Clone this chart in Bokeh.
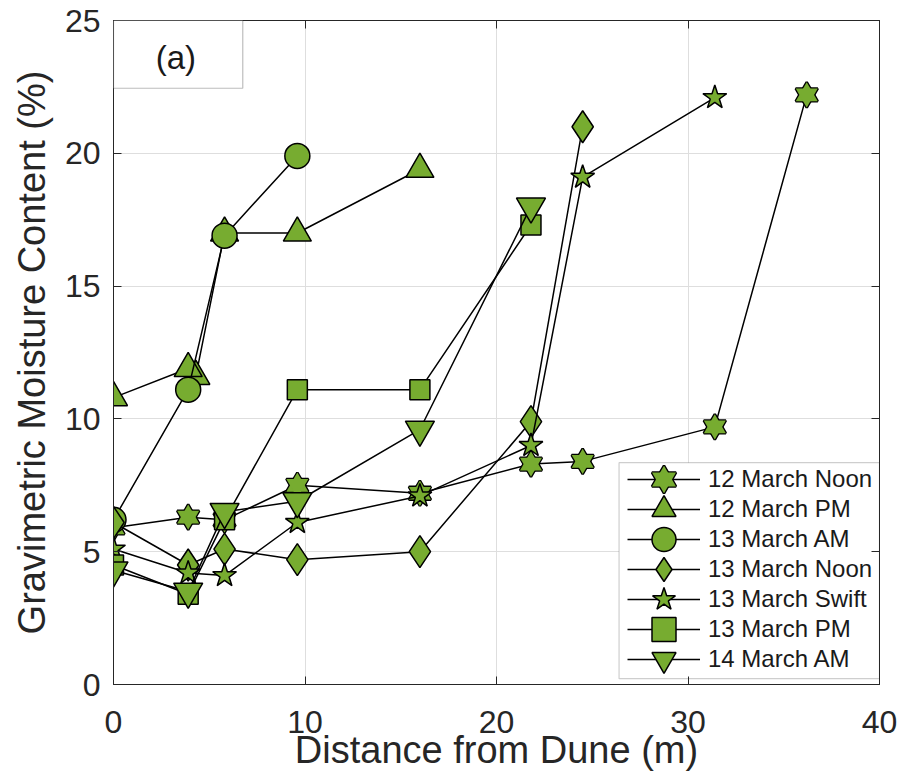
from bokeh.plotting import figure
from bokeh.models import (Legend, LegendItem, LinearAxis, BoxAnnotation, Label,
                          FixedTicker, Range1d, CustomLabelingPolicy)
from bokeh.embed import file_html
from bokeh.resources import INLINE

# ---- measurements: distance from dune (m) and gravimetric moisture (%) ----
x_12_noon = [0, 3.9, 5.8, 9.6, 16, 21.8, 24.5, 31.4, 36.2]
y_12_noon = [5.9, 6.3, 6.2, 7.5, 7.2, 8.3, 8.4, 9.7, 22.2]

x_12_pm = [0, 3.9, 4.3, 5.8, 9.6, 16]
y_12_pm = [10.8, 11.9, 11.6, 17.0, 17.0, 19.4]

x_13_am = [0, 3.9, 5.8, 9.6]
y_13_am = [6.2, 11.1, 16.9, 19.9]

x_13_noon = [0, 3.9, 5.8, 9.6, 16, 21.8, 24.5]
y_13_noon = [6.1, 4.5, 5.1, 4.7, 5.0, 9.9, 21.0]

x_13_swift = [0, 3.9, 5.8, 9.6, 16, 21.8, 24.5, 31.4]
y_13_swift = [5.1, 4.2, 4.1, 6.1, 7.1, 9.0, 19.1, 22.1]

x_13_pm = [0, 3.9, 5.8, 9.6, 16, 21.8]
y_13_pm = [4.5, 3.4, 6.2, 11.1, 11.1, 17.3]

x_14_am = [0, 3.9, 5.8, 9.6, 16, 21.8]
y_14_am = [4.3, 3.5, 6.5, 6.9, 9.6, 18.0]

labels = ["12 March Noon", "12 March PM", "13 March AM", "13 March Noon",
          "13 March Swift", "13 March PM", "14 March AM"]

x_ticks = [0, 10, 20, 30, 40]
y_ticks = [0, 5, 10, 15, 20, 25]

# ---- styling ----
FONT = "Liberation Sans"
GREEN = "#77AC30"
INK = "#262626"

p = figure(width=899, height=775,
           x_range=Range1d(0, 40), y_range=Range1d(0, 25),
           output_backend="svg", toolbar_location=None,
           min_border_left=113, min_border_right=20,
           min_border_top=20, min_border_bottom=91,
           background_fill_color="white", border_fill_color="white")

p.outline_line_color = INK
p.outline_line_width = 1

p.xaxis.ticker = FixedTicker(ticks=x_ticks)
p.yaxis.ticker = FixedTicker(ticks=y_ticks)
p.xaxis.axis_label = "Distance from Dune (m)"
p.yaxis.axis_label = "Gravimetric Moisture Content (%)"

for ax in (p.xaxis[0], p.yaxis[0]):
    ax.major_label_text_font = FONT
    ax.major_label_text_font_size = "32px"
    ax.major_label_text_color = INK
    ax.axis_label_text_font = FONT
    ax.axis_label_text_font_size = "38px"
    ax.axis_label_text_font_style = "normal"
    ax.axis_label_text_color = INK
    ax.major_tick_in = 8
    ax.major_tick_out = 0
    ax.minor_tick_in = 0
    ax.minor_tick_out = 0
    ax.axis_line_color = INK
    ax.major_tick_line_color = INK

p.yaxis.major_label_standoff = 13
p.yaxis.axis_label_standoff = 9
p.xaxis.major_label_standoff = 26
p.xaxis.axis_label_standoff = -7

# box-style ticks along the top and right edges, without labels
no_labels = CustomLabelingPolicy(code="""
    try {
        const out = indices.clone ? indices.clone() : indices
        for (const i of Array.from(out.ones())) out.unset(i)
        return out
    } catch (e) {
        return indices
    }
""")
for side, ticks in (("above", x_ticks), ("right", y_ticks)):
    ax = LinearAxis(ticker=FixedTicker(ticks=ticks),
                    major_label_policy=no_labels,
                    major_label_text_font_size="0px", major_label_standoff=0,
                    major_tick_in=8, major_tick_out=0,
                    minor_tick_in=0, minor_tick_out=0,
                    axis_line_color=INK, major_tick_line_color=INK)
    p.add_layout(ax, side)

for g in (p.xgrid[0], p.ygrid[0]):
    g.grid_line_color = "#dedede"
    g.grid_line_width = 1

# white panel behind the legend entries
p.add_layout(BoxAnnotation(left=26.4, right=40, bottom=0.22, top=8.35,
                           fill_color="white", fill_alpha=1,
                           line_color="#5e5e5e", line_width=1.2,
                           level="underlay"))

# ---- series ----
series = [
    (x_12_noon, y_12_noon, "hexagram", 22),
    (x_12_pm, y_12_pm, "triangle", 28),
    (x_13_am, y_13_am, "circle", 25),
    (x_13_noon, y_13_noon, "diamond", 32),
    (x_13_swift, y_13_swift, "star", 25),
    (x_13_pm, y_13_pm, "square", 20),
    (x_14_am, y_14_am, "inverted_triangle", 29),
]

items = []
for (xs, ys, marker, size), label in zip(series, labels):
    rs = [p.line(xs, ys, line_color="black", line_width=1.5)]
    mx, my = xs[::-1], ys[::-1]   # nearer-dune markers end up on top
    if marker == "hexagram":
        # six-pointed star: two opposed triangles, outlines first then fills
        for m in ("triangle", "inverted_triangle"):
            rs.append(p.scatter(mx, my, marker=m, size=size, fill_color=GREEN,
                                line_color="black", line_width=2.6))
        for m in ("triangle", "inverted_triangle"):
            rs.append(p.scatter(mx, my, marker=m, size=size, fill_color=GREEN,
                                line_alpha=0))
    else:
        rs.append(p.scatter(mx, my, marker=marker, size=size, fill_color=GREEN,
                            line_color="black", line_width=1.5))
    items.append(LegendItem(label=label, renderers=rs))

# legend rows alternate between two stacked legends so the symbols can be
# drawn large while the rows stay tightly packed
legend_style = dict(glyph_width=73, glyph_height=60, spacing=0, padding=0,
                    margin=0, label_standoff=8,
                    label_text_font=FONT, label_text_font_size="24px",
                    label_text_color="#1a1a1a",
                    border_line_alpha=0, background_fill_alpha=0)
p.add_layout(Legend(items=items[0::2], location=(514, -5), **legend_style))
p.add_layout(Legend(items=items[1::2], location=(514, 25), **legend_style))

# panel tag
p.add_layout(BoxAnnotation(left=0, right=6.75, bottom=22.45, top=25,
                           fill_color="white", fill_alpha=1,
                           line_color=INK, line_width=1.2))
p.add_layout(Label(x=3.26, y=23.6, text="(a)", text_align="center",
                   text_baseline="middle", text_font=FONT,
                   text_font_size="33px", text_color="#1a1a1a"))

open("out.html", "w").write(file_html(p, INLINE))
